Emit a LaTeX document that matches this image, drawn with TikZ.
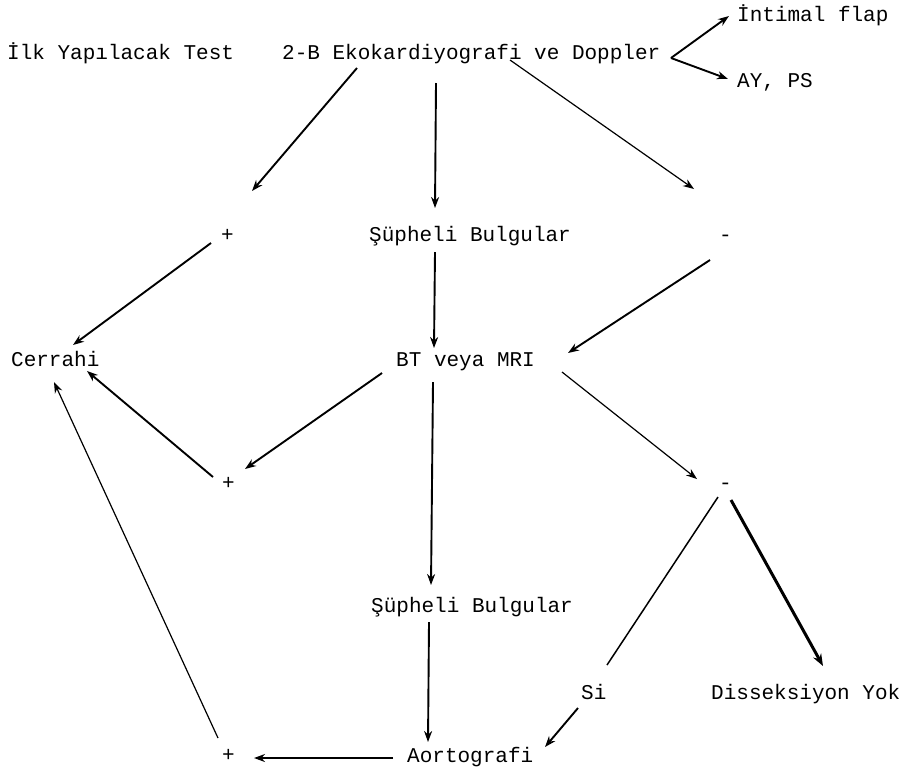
\documentclass[tikz,border=0pt]{standalone}
\usepackage{fontspec}
\newfontfamily\tw{Liberation Mono}
\usetikzlibrary{arrows.meta}
\tikzset{
  lbl/.style={anchor=base west, inner sep=0pt, font=\tw\fontsize{21}{24}\selectfont},
  conn/.style={line width=1.9pt, -{Stealth[length=11pt,width=8pt]}},
  thinconn/.style={line width=1.2pt, -{Stealth[length=11pt,width=8pt]}},
  thickconn/.style={line width=3pt, -{Stealth[length=12pt,width=9pt]}},
  plainline/.style={line width=1.5pt}
}
\begin{document}
\begin{tikzpicture}[x=1pt,y=-1pt]
\useasboundingbox (0,0) rectangle (912,772);
% text nodes
\node[lbl] (ilk) at (7,59) {İlk Yapılacak Test};
\node[lbl] (eko) at (282,59) {2-B Ekokardiyografi ve Doppler};
\node[lbl] (flap) at (737,21) {İntimal flap};
\node[lbl] (ayps) at (737,87) {AY, PS};
\node[lbl] (p1) at (221,241) {+};
\node[lbl] (sb1) at (369,241) {Şüpheli Bulgular};
\node[lbl] (m1) at (719,241) {-};
\node[lbl] (cer) at (11,366) {Cerrahi};
\node[lbl] (bt) at (396,366) {BT veya MRI};
\node[lbl] (p2) at (222,489) {+};
\node[lbl] (m2) at (719,489) {-};
\node[lbl] (sb2) at (371,612) {Şüpheli Bulgular};
\node[lbl] (si) at (581,699) {Si};
\node[lbl] (dis) at (711,699) {Disseksiyon Yok};
\node[lbl] (p3) at (222,761) {+};
\node[lbl] (aor) at (407,762) {Aortografi};
% connector end points
\coordinate (v0) at (671,58);
\coordinate (vflap) at (729,16);
\coordinate (vayps) at (728,79);
\coordinate (e1s) at (357,68);  \coordinate (e1e) at (252,191);
\coordinate (e2s) at (436,83);  \coordinate (e2e) at (435,208);
\coordinate (e3s) at (510,60);  \coordinate (e3e) at (694,189);
\coordinate (p1s) at (211,243); \coordinate (p1e) at (73,345);
\coordinate (s1s) at (435,252); \coordinate (s1e) at (434,348);
\coordinate (m1s) at (710,260); \coordinate (m1e) at (568,353);
\coordinate (b1s) at (382,373); \coordinate (b1e) at (245,469);
\coordinate (b2s) at (562,372); \coordinate (b2e) at (697,479);
\coordinate (b3s) at (433,382); \coordinate (b3e) at (431,585);
\coordinate (p2s) at (213,477); \coordinate (p2e) at (87,371);
\coordinate (m2s) at (718,497); \coordinate (m2e) at (607,665);
\coordinate (m3s) at (731,500); \coordinate (m3e) at (823,666);
\coordinate (s2s) at (429,622); \coordinate (s2e) at (428,742);
\coordinate (sis) at (578,708); \coordinate (sie) at (545,747);
\coordinate (as) at (393,758);  \coordinate (ae) at (254,758);
\coordinate (p3s) at (218,738); \coordinate (p3e) at (54,382);
% connectors
\draw[conn] (v0) -- (vflap);
\draw[conn] (v0) -- (vayps);
\draw[conn] (e1s) -- (e1e);
\draw[conn] (e2s) -- (e2e);
\draw[thinconn] (e3s) -- (e3e);
\draw[conn] (p1s) -- (p1e);
\draw[conn] (s1s) -- (s1e);
\draw[conn] (m1s) -- (m1e);
\draw[conn] (b1s) -- (b1e);
\draw[thinconn] (b2s) -- (b2e);
\draw[conn] (b3s) -- (b3e);
\draw[conn] (p2s) -- (p2e);
\draw[plainline] (m2s) -- (m2e);
\draw[thickconn] (m3s) -- (m3e);
\draw[conn] (s2s) -- (s2e);
\draw[conn] (sis) -- (sie);
\draw[conn] (as) -- (ae);
\draw[thinconn] (p3s) -- (p3e);
\end{tikzpicture}
\end{document}
